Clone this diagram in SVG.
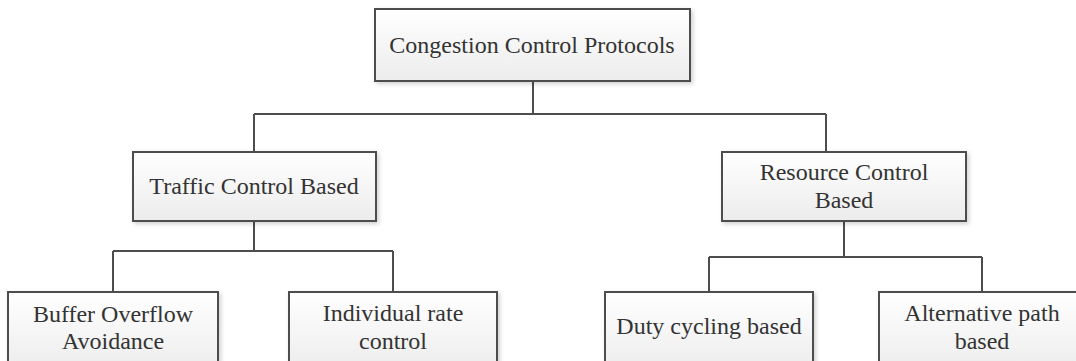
<svg xmlns="http://www.w3.org/2000/svg" width="1076" height="361" viewBox="0 0 1076 361">
<defs>
<linearGradient id="g" x1="0" y1="0" x2="0" y2="1">
<stop offset="0" stop-color="#ffffff"/>
<stop offset="1" stop-color="#ececec"/>
</linearGradient>
<filter id="sh" x="-10%" y="-10%" width="130%" height="140%">
<feDropShadow dx="2" dy="2" stdDeviation="2" flood-color="#000" flood-opacity="0.18"/>
</filter>
</defs>
<style>
.box{fill:url(#g);stroke:#4d4d4d;stroke-width:2;filter:url(#sh)}
.t{font-family:"Liberation Serif","Times New Roman",serif;font-size:24px;fill:#333;text-anchor:middle}
.c{fill:none;stroke:#4d4d4d;stroke-width:2}
</style>
<rect width="1076" height="361" fill="#fff"/>
<g id="connectors">
<path class="c" d="M533,81 V114 M254,114 H826 M254,114 V152 M826,114 V152"/>
<path class="c" d="M254,221 V251 M113,251 H393 M113,251 V292 M393,251 V292"/>
<path class="c" d="M844,221 V257 M709,257 H982 M709,257 V292 M982,257 V292"/>
</g>
<g id="n-root">
<rect class="box" x="375" y="9" width="315" height="72"/>
<text class="t" x="532" y="53">Congestion Control Protocols</text>
</g>
<g id="n-traffic">
<rect class="box" x="133" y="152" width="243" height="69"/>
<text class="t" x="254" y="194">Traffic Control Based</text>
</g>
<g id="n-resource">
<rect class="box" x="722" y="152" width="244" height="69"/>
<text class="t" x="844" y="180">Resource Control</text>
<text class="t" x="844" y="208">Based</text>
</g>
<g id="n-buffer">
<rect class="box" x="8" y="292" width="210" height="80"/>
<text class="t" x="113" y="322">Buffer Overflow</text>
<text class="t" x="113" y="349">Avoidance</text>
</g>
<g id="n-individual">
<rect class="box" x="289" y="292" width="208" height="80"/>
<text class="t" x="393" y="321">Individual rate</text>
<text class="t" x="393" y="349">control</text>
</g>
<g id="n-duty">
<rect class="box" x="605" y="292" width="208" height="80"/>
<text class="t" x="709" y="334">Duty cycling based</text>
</g>
<g id="n-alt">
<rect class="box" x="879" y="292" width="208" height="80"/>
<text class="t" x="982" y="321">Alternative path</text>
<text class="t" x="982" y="349">based</text>
</g>
</svg>
